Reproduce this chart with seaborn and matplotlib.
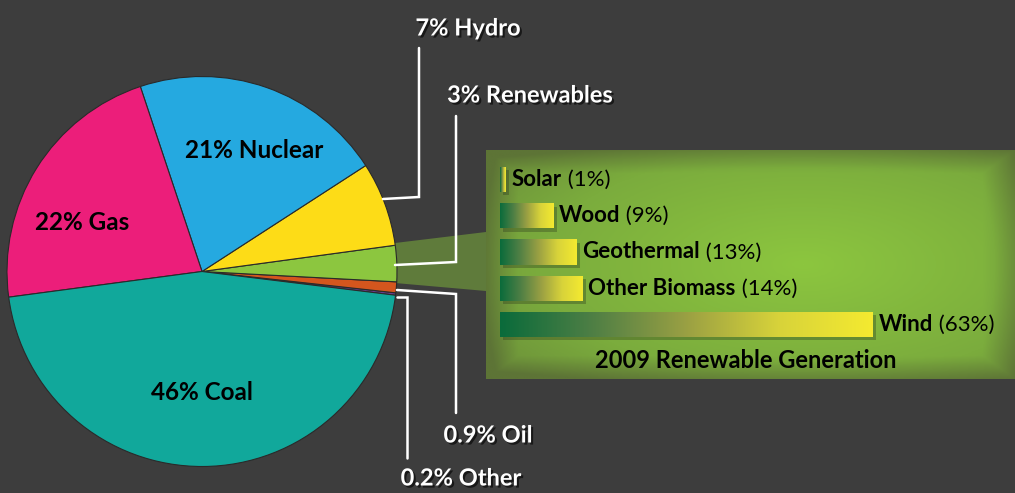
import numpy as np
import seaborn as sns
import matplotlib.pyplot as plt
import matplotlib.patheffects as pe
from matplotlib.colors import LinearSegmentedColormap
from matplotlib.patches import Polygon

# electricity generation mix (counter-clockwise, starting just below 3 o'clock)
sources = ['Other', 'Oil', 'Renewables', 'Hydro', 'Nuclear', 'Gas', 'Coal']
shares = [0.2, 0.9, 3, 7, 21, 22, 46]
share_labels = ['0.2% Other', '0.9% Oil', '3% Renewables', '7% Hydro',
                '21% Nuclear', '22% Gas', '46% Coal']
pie_colors = ['#6a3d8f', '#d4561e', '#8cc63f', '#fddc17', '#25a9e0', '#ec1e7a', '#11a89b']

# 2009 renewable generation breakdown
renew = ['Solar', 'Wood', 'Geothermal', 'Other Biomass', 'Wind']
renew_pct = [1, 9, 13, 14, 63]

sns.set_theme(style='white')
plt.rcParams['font.family'] = ['Lato', 'DejaVu Sans']

BG = '#3d3d3d'
W, H = 1015, 493
fig = plt.figure(figsize=(W / 100, H / 100), dpi=100, facecolor=BG)
ax = fig.add_axes([0, 0, 1, 1])
ax.set_facecolor(BG)


def Y(y):
    # pixel row -> data y (y axis points up)
    return H - y


# connector from renewables slice to the inset
conn = Polygon([(395, Y(243)), (486, Y(232)), (486, Y(291)), (395, Y(283))],
               closed=True, facecolor='#5f7b3b', edgecolor='none', zorder=1)
ax.add_patch(conn)

wedges, _ = ax.pie(shares, colors=pie_colors, startangle=353, counterclock=True,
                   center=(202, Y(271.5)), radius=195, frame=True,
                   wedgeprops=dict(edgecolor='#2a2a2a', linewidth=0.8))
for w in wedges:
    w.set_zorder(2)

ax.set_xlim(0, W)
ax.set_ylim(0, H)
ax.set_aspect('equal')
ax.axis('off')

# labels inside the pie
inner = {'21% Nuclear': (254, 151), '22% Gas': (82, 222), '46% Coal': (202, 393)}
for txt, (x, y) in inner.items():
    ax.text(x, Y(y), txt, ha='center', va='center', fontsize=17.5,
            fontweight='bold', color='black', zorder=5)

# leader lines + outside labels
shadow = [pe.SimplePatchShadow(offset=(1.5, -1.5), shadow_rgbFace='black', alpha=0.6), pe.Normal()]
leaders = {
    '7% Hydro': ([(383, 199), (419, 197), (419, 48)], (468, 28)),
    '3% Renewables': ([(395, 265), (456, 262), (456, 116)], (530, 95)),
    '0.9% Oil': ([(397, 290), (456, 294), (456, 413)], (488, 435)),
    '0.2% Other': ([(397, 297), (407, 297), (407, 458)], (461, 478)),
}
for txt, (pts, (tx, ty)) in leaders.items():
    xs = [p[0] for p in pts]
    ys = [Y(p[1]) for p in pts]
    ax.plot(xs, ys, color='white', lw=1.8, zorder=3, solid_joinstyle='miter')
    ax.text(tx, Y(ty), txt, ha='center', va='center', fontsize=17,
            fontweight='bold', color='white', zorder=5, path_effects=shadow)

# inset panel
pl, pt, pr, pb = 486, 150, W, 379
pax = fig.add_axes([pl / W, (H - pb) / H, (pr - pl) / W, (pb - pt) / H])

gx, gy = np.meshgrid(np.linspace(0, 1, 400), np.linspace(0, 1, 200))
d = np.sqrt(((gx - 0.6) / 0.75) ** 2 + ((gy - 0.5) / 0.75) ** 2)
edge = np.minimum.reduce([gx / 0.06, (1 - gx) / 0.06, gy / 0.1, (1 - gy) / 0.1])
d = np.clip(d, 0, 1) * 0.75 + (1 - np.clip(edge, 0, 1)) * 0.35
bg_cmap = LinearSegmentedColormap.from_list('panel', ['#8cc63f', '#7bac3d', '#5d7436'])
pax.imshow(np.clip(d, 0, 1), cmap=bg_cmap, vmin=0, vmax=1, extent=(0, 1, 0, 1),
           transform=pax.transAxes, aspect='auto', zorder=0)

sns.barplot(x=renew_pct, y=renew, ax=pax, color='#7d9a45', width=0.69,
            orient='h', linewidth=0, zorder=2)

px_per_pct = 5.92
x0 = -(500 - pl) / px_per_pct
step = 36.25

bar_cmap = LinearSegmentedColormap.from_list('bar', ['#0a6b3b', '#4f7f45', '#9aa043', '#d8d33a', '#f4ea30'])
grad = np.linspace(0, 1, 256).reshape(1, -1)
for p in pax.patches:
    bx, by, bw, bh = p.get_x(), p.get_y(), p.get_width(), p.get_height()
    p.set_edgecolor('none')
    p.set_path_effects([pe.SimplePatchShadow(offset=(2.5, -2.5), alpha=0.3), pe.Normal()])
    im = pax.imshow(grad, cmap=bar_cmap, extent=(bx, bx + bw, by + bh, by),
                    aspect='auto', zorder=3)
    im.set_clip_path(p)

pax.set_xlim(x0, x0 + (pr - pl) / px_per_pct)
pax.set_ylim((pb - 179.5) / step, (pt - 179.5) / step)
pax.axis('off')

for i, (name, val) in enumerate(zip(renew, renew_pct)):
    t = pax.annotate(name, xy=(val, i), xytext=(4, 0), textcoords='offset points',
                     ha='left', va='center', fontsize=16, fontweight='bold',
                     color='black', zorder=5)
    pax.annotate(f' ({val}%)', xy=(1, 0), xycoords=t, ha='left', va='bottom',
                 fontsize=16, color='black', zorder=5)

pax.text((746 - pl) / (pr - pl), (pb - 361) / (pb - pt), '2009 Renewable Generation',
         transform=pax.transAxes, ha='center', va='center', fontsize=17,
         fontweight='bold', color='black', zorder=5)

fig.savefig('out.png', dpi=100, facecolor=BG)
